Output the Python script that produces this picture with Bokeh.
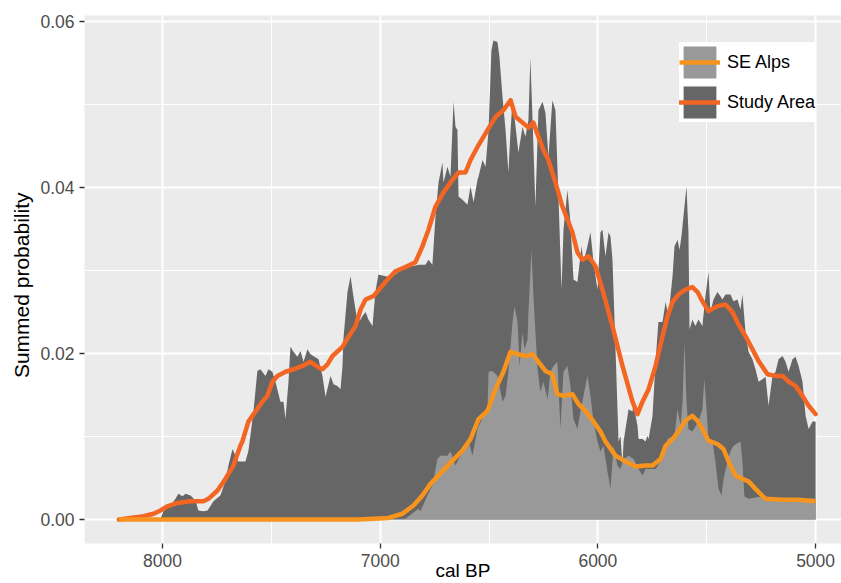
from bokeh.plotting import figure
from bokeh.models import Range1d, FixedTicker, NumeralTickFormatter, Legend, LegendItem
from bokeh.embed import file_html
from bokeh.resources import INLINE

# ---- data (cal BP, summed probability) ----
study_years = [8200, 8055, 8009, 7995, 7963, 7940, 7927, 7908, 7894, 7871,
               7848, 7835, 7812, 7793, 7780, 7766, 7734, 7711, 7697, 7678,
               7665, 7651, 7619, 7605, 7582, 7564, 7550, 7527, 7513, 7495,
               7481, 7458, 7444, 7435, 7421, 7412, 7398, 7380, 7366, 7352,
               7334, 7320, 7283, 7265, 7251, 7228, 7214, 7196, 7182, 7173,
               7169, 7150, 7136, 7123, 7104, 7090, 7081, 7067, 7054, 7035,
               7022, 7008, 6976, 6953, 6930, 6884, 6852, 6824, 6792, 6778,
               6760, 6746, 6732, 6714, 6709, 6691, 6677, 6663, 6654, 6645,
               6640, 6622, 6599, 6585, 6571, 6553, 6548, 6530, 6516, 6502,
               6489, 6480, 6461, 6452, 6438, 6424, 6411, 6401, 6392, 6378,
               6365, 6346, 6333, 6319, 6310, 6300, 6287, 6273, 6254, 6241,
               6227, 6209, 6195, 6181, 6167, 6158, 6140, 6126, 6112, 6094,
               6075, 6066, 6048, 6034, 6020, 6002, 5988, 5979, 5965, 5951,
               5942, 5933, 5919, 5905, 5896, 5887, 5882, 5873, 5859, 5841,
               5836, 5827, 5818, 5813, 5795, 5781, 5772, 5767, 5749, 5735,
               5722, 5703, 5689, 5676, 5657, 5648, 5634, 5625, 5616, 5607,
               5593, 5584, 5579, 5566, 5552, 5538, 5520, 5506, 5492, 5483,
               5469, 5451, 5437, 5428, 5414, 5391, 5377, 5359, 5345, 5336,
               5322, 5308, 5290, 5276, 5262, 5244, 5230, 5216, 5198, 5184,
               5170, 5152, 5138, 5124, 5106, 5092, 5078, 5060, 5046, 5032,
               5014, 5000]
study_spd = [0, 0, 0.0001, 0.0010, 0.0017, 0.0025, 0.0031, 0.0028, 0.0031, 0.0029,
             0.0023, 0.0011, 0.0010, 0.0011, 0.0016, 0.0022, 0.0029, 0.0046, 0.0065, 0.0085,
             0.0077, 0.0070, 0.0070, 0.0083, 0.0130, 0.0179, 0.0181, 0.0173, 0.0181, 0.0178,
             0.0166, 0.0142, 0.0142, 0.0121, 0.0166, 0.0208, 0.0202, 0.0196, 0.0203, 0.0190,
             0.0205, 0.0199, 0.0193, 0.0173, 0.0148, 0.0173, 0.0163, 0.0161, 0.0157, 0.0185,
             0.0217, 0.0274, 0.0293, 0.0269, 0.0238, 0.0241, 0.0245, 0.0250, 0.0241, 0.0233,
             0.0274, 0.0295, 0.0293, 0.0292, 0.0295, 0.0305, 0.0305, 0.0307, 0.0307, 0.0313,
             0.0307, 0.0365, 0.0406, 0.0430, 0.0406, 0.0425, 0.0413, 0.0503, 0.0473, 0.0469,
             0.0389, 0.0385, 0.0379, 0.0401, 0.0382, 0.0409, 0.0413, 0.0433, 0.0425, 0.0469,
             0.0565, 0.0577, 0.0575, 0.0557, 0.0509, 0.0469, 0.0418, 0.0469, 0.0505, 0.0473,
             0.0442, 0.0473, 0.0461, 0.0481, 0.0556, 0.0481, 0.0377, 0.0493, 0.0503, 0.0490,
             0.0437, 0.0505, 0.0493, 0.0389, 0.0277, 0.0349, 0.0397, 0.0358, 0.0289, 0.0286,
             0.0329, 0.0310, 0.0329, 0.0346, 0.0310, 0.0277, 0.0346, 0.0349, 0.0317, 0.0346,
             0.0341, 0.0313, 0.0205, 0.0094, 0.0101, 0.0065, 0.0094, 0.0109, 0.0133, 0.0130,
             0.0142, 0.0125, 0.0113, 0.0097, 0.0097, 0.0094, 0.0101, 0.0097, 0.0125, 0.0190,
             0.0238, 0.0238, 0.0262, 0.0245, 0.0293, 0.0329, 0.0337, 0.0325, 0.0341, 0.0365,
             0.0401, 0.0346, 0.0229, 0.0241, 0.0233, 0.0241, 0.0233, 0.0269, 0.0298, 0.0250,
             0.0265, 0.0274, 0.0269, 0.0265, 0.0271, 0.0271, 0.0263, 0.0265, 0.0253, 0.0271,
             0.0226, 0.0202, 0.0193, 0.0181, 0.0166, 0.0169, 0.0172, 0.0137, 0.0173, 0.0178,
             0.0193, 0.0197, 0.0190, 0.0178, 0.0193, 0.0196, 0.0185, 0.0166, 0.0125, 0.0109,
             0.0118, 0.0118]

alps_years = [7000, 6907, 6884, 6824, 6815, 6783, 6760, 6737, 6723, 6691,
              6677, 6654, 6640, 6617, 6594, 6576, 6553, 6525, 6507, 6502,
              6484, 6461, 6438, 6424, 6411, 6392, 6383, 6369, 6360, 6346,
              6337, 6323, 6319, 6305, 6296, 6277, 6264, 6250, 6231, 6218,
              6204, 6186, 6172, 6158, 6140, 6126, 6112, 6094, 6080, 6066,
              6048, 6034, 6020, 6002, 5988, 5974, 5956, 5942, 5928, 5910,
              5896, 5882, 5859, 5836, 5813, 5795, 5781, 5735, 5712, 5699,
              5680, 5648, 5634, 5620, 5611, 5602, 5593, 5584, 5566, 5538,
              5520, 5511, 5501, 5492, 5474, 5460, 5446, 5432, 5423, 5405,
              5391, 5377, 5345, 5336, 5327, 5308, 5244, 5152, 5000]
alps_spd = [0, 0.0001, 0.0001, 0.0013, 0.0010, 0.0029, 0.0041, 0.0073, 0.0077, 0.0077,
            0.0082, 0.0065, 0.0073, 0.0082, 0.0094, 0.0077, 0.0109, 0.0125, 0.0133, 0.0178,
            0.0179, 0.0173, 0.0142, 0.0149, 0.0178, 0.0238, 0.0257, 0.0238, 0.0185, 0.0226,
            0.0205, 0.0217, 0.0250, 0.0325, 0.0269, 0.0181, 0.0154, 0.0166, 0.0145, 0.0178,
            0.0185, 0.0190, 0.0109, 0.0178, 0.0185, 0.0161, 0.0121, 0.0109, 0.0130, 0.0149,
            0.0173, 0.0149, 0.0118, 0.0094, 0.0082, 0.0089, 0.0058, 0.0037, 0.0089, 0.0065,
            0.0061, 0.0073, 0.0077, 0.0073, 0.0061, 0.0053, 0.0061, 0.0061, 0.0070, 0.0077,
            0.0097, 0.0101, 0.0133, 0.0113, 0.0142, 0.0214, 0.0142, 0.0109, 0.0106, 0.0118,
            0.0133, 0.0169, 0.0133, 0.0097, 0.0094, 0.0070, 0.0037, 0.0029, 0.0049, 0.0070,
            0.0082, 0.0089, 0.0094, 0.0070, 0.0028, 0.0025, 0.0028, 0.0025, 0.0025]

study_smooth_years = [8200, 8087, 8041, 8009, 7977, 7931, 7871, 7812, 7789, 7747,
                      7711, 7674, 7642, 7633, 7605, 7573, 7541, 7518, 7495, 7472,
                      7435, 7398, 7357, 7320, 7288, 7265, 7242, 7219, 7173, 7146,
                      7113, 7090, 7067, 7031, 6976, 6930, 6884, 6838, 6806, 6778,
                      6746, 6709, 6668, 6640, 6608, 6585, 6548, 6507, 6470, 6434,
                      6401, 6378, 6346, 6319, 6296, 6273, 6250, 6227, 6195, 6163,
                      6117, 6094, 6071, 6043, 6011, 5979, 5933, 5887, 5841, 5818,
                      5795, 5767, 5735, 5703, 5680, 5657, 5630, 5598, 5566, 5542,
                      5520, 5492, 5451, 5414, 5382, 5354, 5322, 5290, 5262, 5221,
                      5184, 5152, 5124, 5092, 5060, 5032, 5000]
study_smooth = [0, 0.0004, 0.0007, 0.0011, 0.0016, 0.0020, 0.0022, 0.0022, 0.0025, 0.0035,
                0.0049, 0.0065, 0.0089, 0.0094, 0.0118, 0.0130, 0.0142, 0.0149, 0.0166, 0.0173,
                0.0178, 0.0181, 0.0185, 0.0190, 0.0184, 0.0181, 0.0187, 0.0197, 0.0208, 0.0220,
                0.0233, 0.0253, 0.0265, 0.0269, 0.0286, 0.0299, 0.0304, 0.0310, 0.0329, 0.0349,
                0.0377, 0.0394, 0.0409, 0.0418, 0.0418, 0.0433, 0.0451, 0.0469, 0.0485, 0.0493,
                0.0505, 0.0485, 0.0478, 0.0472, 0.0478, 0.0461, 0.0445, 0.0433, 0.0406, 0.0377,
                0.0346, 0.0322, 0.0313, 0.0317, 0.0305, 0.0277, 0.0233, 0.0185, 0.0142, 0.0127,
                0.0142, 0.0157, 0.0185, 0.0221, 0.0245, 0.0262, 0.0271, 0.0277, 0.0280, 0.0274,
                0.0263, 0.0251, 0.0257, 0.0259, 0.0250, 0.0235, 0.0221, 0.0205, 0.0191, 0.0175,
                0.0173, 0.0173, 0.0166, 0.0161, 0.0149, 0.0137, 0.0127]

alps_smooth_years = [8200, 7100, 7030, 6962, 6898, 6847, 6806, 6769, 6714, 6668,
                     6622, 6585, 6548, 6507, 6470, 6434, 6401, 6369, 6333, 6300,
                     6273, 6241, 6209, 6186, 6158, 6117, 6089, 6057, 6020, 5988,
                     5965, 5919, 5873, 5827, 5781, 5749, 5712, 5689, 5657, 5630,
                     5598, 5566, 5542, 5520, 5492, 5451, 5423, 5400, 5368, 5336,
                     5308, 5276, 5230, 5152, 5078, 5000]
alps_smooth = [0, 0, 0.0001, 0.0002, 0.0007, 0.0017, 0.0029, 0.0043, 0.0058, 0.0071,
               0.0083, 0.0097, 0.0121, 0.0131, 0.0157, 0.0178, 0.0202, 0.0199, 0.0197, 0.0199,
               0.0190, 0.0179, 0.0175, 0.0151, 0.0149, 0.0151, 0.0139, 0.0131, 0.0118, 0.0106,
               0.0094, 0.0077, 0.0070, 0.0064, 0.0065, 0.0065, 0.0073, 0.0089, 0.0097, 0.0106,
               0.0119, 0.0125, 0.0119, 0.0109, 0.0095, 0.0091, 0.0085, 0.0070, 0.0053, 0.0049,
               0.0046, 0.0037, 0.0025, 0.0024, 0.0024, 0.0022]

x_major = [8000, 7000, 6000, 5000]
x_minor = [7500, 6500, 5500]
y_major = [0.0, 0.02, 0.04, 0.06]
y_minor = [0.01, 0.03, 0.05]

series_labels = ["SE Alps", "Study Area"]
area_colors = ["#999999", "#666666"]
line_colors = ["#F7941D", "#F26522"]

FONT = "Liberation Sans"

p = figure(width=841, height=583, output_backend="svg", toolbar_location=None,
           x_range=Range1d(8358, 4881), y_range=Range1d(-0.00288, 0.0607),
           min_border_left=84, min_border_right=0, min_border_top=15, min_border_bottom=0,
           background_fill_color="#EBEBEB", border_fill_color="white",
           outline_line_color=None)

study_area = p.varea(x=study_years, y1=0, y2=study_spd, fill_color=area_colors[1])
alps_area = p.varea(x=alps_years, y1=0, y2=alps_spd, fill_color=area_colors[0])
study_line = p.line(study_smooth_years, study_smooth, line_color=line_colors[1],
                    line_width=4.5, line_join="round", line_cap="round")
alps_line = p.line(alps_smooth_years, alps_smooth, line_color=line_colors[0],
                   line_width=4.5, line_join="round", line_cap="butt")

# axes
p.xaxis.ticker = FixedTicker(ticks=x_major, minor_ticks=x_minor)
p.yaxis.ticker = FixedTicker(ticks=y_major, minor_ticks=y_minor)
p.xaxis.formatter = NumeralTickFormatter(format="0")
p.yaxis.formatter = NumeralTickFormatter(format="0.00")
p.xaxis.axis_label = "cal BP"
p.yaxis.axis_label = "Summed probability\u00a0\u00a0"
for ax in (p.xaxis[0], p.yaxis[0]):
    ax.axis_line_color = None
    ax.major_tick_line_color = "#333333"
    ax.major_tick_line_width = 1.3
    ax.major_tick_in = 0
    ax.major_tick_out = 5
    ax.minor_tick_in = 0
    ax.minor_tick_out = 0
    ax.major_label_text_font = FONT
    ax.major_label_text_font_size = "17.5px"
    ax.major_label_text_color = "#4D4D4D"
    ax.axis_label_text_font = FONT
    ax.axis_label_text_font_size = "21px"
    ax.axis_label_text_font_style = "normal"
    ax.axis_label_text_color = "black"
p.xaxis.axis_label_text_font_size = "19px"
p.xaxis.major_label_standoff = 5
p.xaxis.axis_label_standoff = -10
p.yaxis.major_label_standoff = 5
p.yaxis.axis_label_standoff = 4

# grid
for g in (p.xgrid[0], p.ygrid[0]):
    g.grid_line_color = "white"
    g.grid_line_width = 2
    g.minor_grid_line_color = "white"
    g.minor_grid_line_width = 1

legend = Legend(items=[LegendItem(label=series_labels[0], renderers=[alps_area, alps_line]),
                       LegendItem(label=series_labels[1], renderers=[study_area, study_line])],
                location=(595, 421), glyph_width=41, glyph_height=40, spacing=-5,
                padding=6, margin=0, label_standoff=7,
                label_text_font=FONT, label_text_font_size="18px", label_text_color="black",
                background_fill_color="white", background_fill_alpha=1.0,
                border_line_color=None)
p.add_layout(legend)

open("out.html", "w").write(file_html(p, INLINE))
